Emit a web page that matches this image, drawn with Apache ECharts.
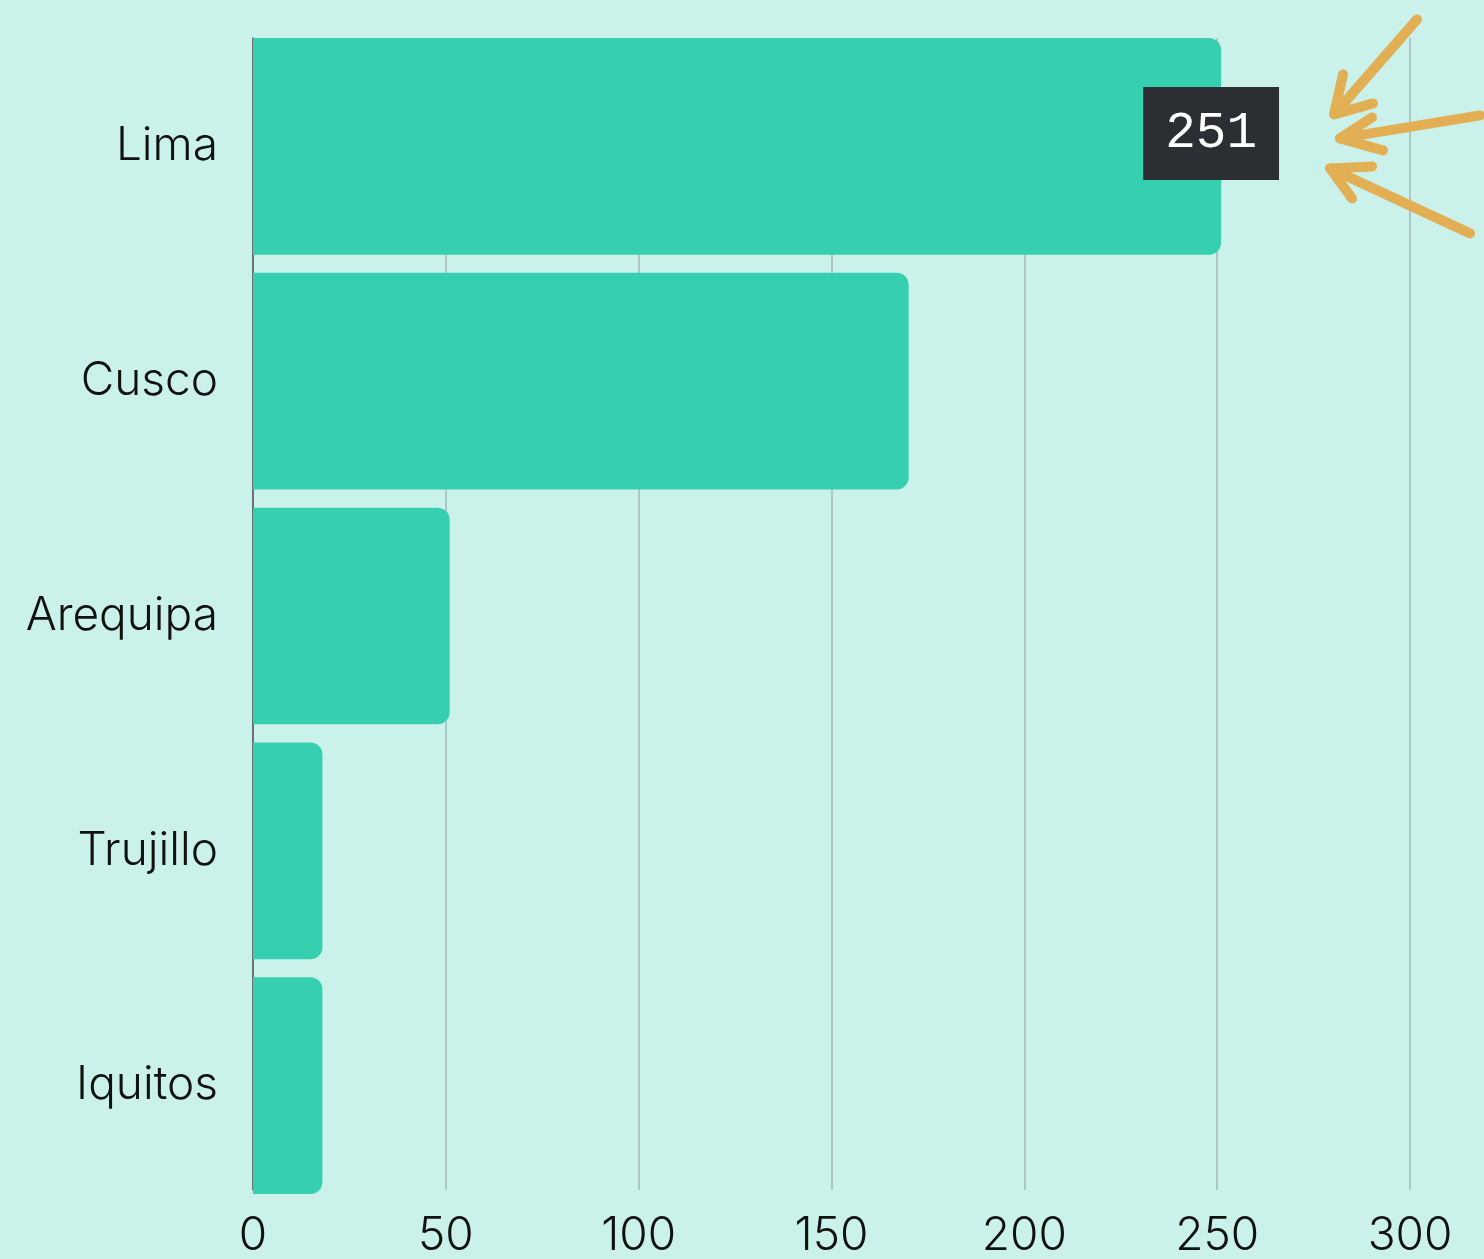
<!DOCTYPE html>
<html>
<head>
<meta charset="utf-8">
<script src="https://cdn.jsdelivr.net/npm/echarts@6/dist/echarts.min.js"></script>
<style>
html,body{margin:0;padding:0;background:#CAF2EA;}
#chart{width:1484px;height:1259px;}
</style>
</head>
<body>
<div id="chart"></div>
<script>
const categories = ['Lima', 'Cusco', 'Arequipa', 'Trujillo', 'Iquitos'];
const values = [251, 170, 51, 18, 18];
const xTicks = [0, 50, 100, 150, 200, 250, 300];
const highlightCity = 'Lima';

const chart = echarts.init(document.getElementById('chart'));
const FONT = 'Inter';

const seriesData = values.map((v, i) => {
  const item = { value: v };
  if (categories[i] === highlightCity) {
    item.label = {
      show: true,
      position: 'insideRight',
      distance: 5,
      offset: [63, -13],
      formatter: '{c}',
      color: '#ffffff',
      backgroundColor: '#2B2F33',
      fontFamily: 'Liberation Mono',
      fontSize: 51,
      padding: [22, 22, 20, 22]
    };
  }
  return item;
});

chart.setOption({
  backgroundColor: '#CAF2EA',
  animation: false,
  grid: [
    { left: 253, right: 74, top: 29, bottom: 56 },
    { left: 253, right: 74, top: 38, bottom: 65 }
  ],
  xAxis: [
    { gridIndex: 0, type: 'value', min: 0, max: 300, interval: 50, show: false },
    {
      gridIndex: 1, type: 'value', min: xTicks[0], max: xTicks[xTicks.length - 1], interval: 50,
      axisLine: { show: false }, axisTick: { show: false },
      axisLabel: { color: '#111', fontFamily: FONT, fontWeight: 300, fontSize: 46, margin: 23 },
      splitLine: { show: true, lineStyle: { color: '#A3BAB4', width: 1.5 } }
    }
  ],
  yAxis: [
    {
      gridIndex: 0, type: 'category', data: categories, inverse: true,
      axisLine: { show: false }, axisTick: { show: false },
      axisLabel: { color: '#111', fontFamily: FONT, fontWeight: 300, fontSize: 46, margin: 35 }
    },
    {
      gridIndex: 1, type: 'value', min: 0, max: 1,
      axisLine: { show: true, lineStyle: { color: '#555', width: 1.5 } },
      axisTick: { show: false }, axisLabel: { show: false }, splitLine: { show: false }
    }
  ],
  series: [{
    type: 'bar',
    xAxisIndex: 0, yAxisIndex: 0,
    data: seriesData,
    barCategoryGap: '7.7%',
    itemStyle: { color: '#36D0B0', borderRadius: [0, 12, 12, 0] },
    z: 3
  }]
});

function drawArrows() {
  const idx = categories.indexOf(highlightCity);
  const p = chart.convertToPixel({ xAxisIndex: 0, yAxisIndex: 0 }, [values[idx], categories[idx]]);
  const ax = p[0], ay = p[1];
  const arrows = [
    { shaft: [[196, -127], [114, -33]], head: [[122, -72], [113, -32], [152, -43]] },
    { shaft: [[259, -31], [119, -8]], head: [[151, -29], [119, -8], [162, 4]] },
    { shaft: [[249, 87], [109, 22]], head: [[151, 20], [109, 22], [131, 52]] }
  ];
  const style = { stroke: '#E3AF55', lineWidth: 10, lineCap: 'round', lineJoin: 'round', fill: null };
  const elements = [];
  arrows.forEach(a => {
    elements.push({ type: 'polyline', shape: { points: a.shaft.map(q => [ax + q[0], ay + q[1]]) }, style, z: 10 });
    elements.push({ type: 'polyline', shape: { points: a.head.map(q => [ax + q[0], ay + q[1]]) }, style, z: 10 });
  });
  chart.setOption({ graphic: elements });
}
drawArrows();
</script>
</body>
</html>
